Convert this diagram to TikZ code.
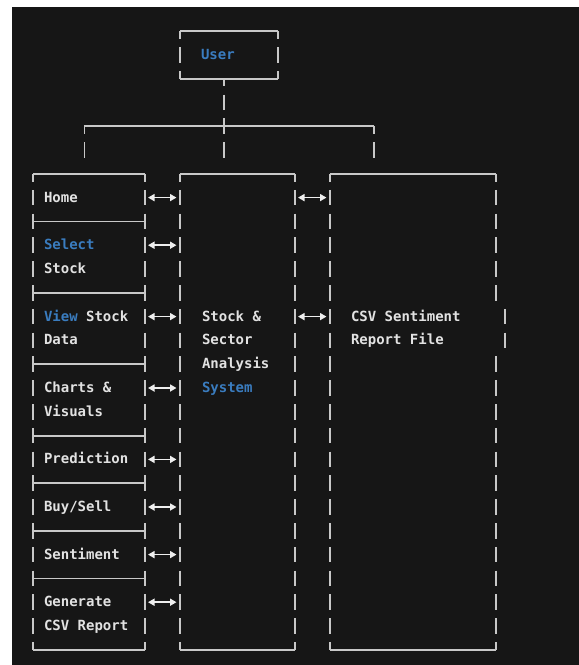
\documentclass[tikz,border=0pt]{standalone}
\usepackage{fontspec}
\newfontfamily\monof{DejaVu Sans Mono}
\usetikzlibrary{arrows.meta}
\definecolor{bg}{HTML}{161616}
\definecolor{ln}{HTML}{C8C8C8}
\definecolor{tx}{HTML}{E2E2E2}
\definecolor{ub}{HTML}{3A7CBF}
\definecolor{ar}{HTML}{EEEEEE}
\begin{document}
\begin{tikzpicture}[x=1pt,y=-1pt,
  box/.style={draw=none, inner sep=0pt, outer sep=0pt, rectangle},
  lbl/.style={anchor=west, inner sep=0pt, outer sep=0pt, text height=9pt, text depth=0pt, text=tx,
    font=\monof\bfseries\fontsize{14}{16}\selectfont},
  hline/.style={draw=ln, line width=1.8pt},
  vline/.style={draw=ln, line width=1.8pt, dash pattern=on 15.5pt off 8.3pt, dash phase=7.75pt},
  vseg/.style={draw=ln, line width=1.8pt, dash pattern=on 15.5pt off 8.3pt, dash phase=0pt},
  arr/.style={draw=ar, line width=1.6pt, {Triangle[length=6.5pt,width=7pt]}-{Triangle[length=6.5pt,width=7pt]},
    shorten <=3pt, shorten >=3.5pt}
]
\useasboundingbox (0,0) rectangle (579,665);
\fill[white] (0,0) rectangle (579,665);
\fill[bg] (12,7) rectangle (579,665);

% box frames (invisible nodes)
\node[box, minimum width=98pt, minimum height=47.6pt] (user) at (229,54.8) {};
\node[box, minimum width=112pt, minimum height=476pt] (lbox) at (89,411.8) {};
\node[box, minimum width=115pt, minimum height=476pt] (mbox) at (237.5,411.8) {};
\node[box, minimum width=166pt, minimum height=476pt] (rbox) at (413,411.8) {};

% user box
\draw[hline] (user.north west) -- (user.north east);
\draw[hline] (user.south west) -- (user.south east);
\draw[vline] (user.north west) -- (user.south west);
\draw[vline] (user.north east) -- (user.south east);

% tree connector
\coordinate (hl) at (84.4,126.2);
\coordinate (hub) at (224,126.2);
\coordinate (hr) at (374,126.2);
\coordinate (dl) at (84.4,157.75);
\coordinate (dm) at (224,157.75);
\coordinate (dr) at (374,157.75);
\draw[hline] (hl) -- (hr);
\draw[vline] (hub |- user.south) -- (dm);
\draw[vline] (hl) -- (dl);
\draw[vline] (hr) -- (dr);

% three boxes
\foreach \b in {lbox,mbox,rbox}{
  \draw[hline] (\b.north west) -- (\b.north east);
  \draw[hline] (\b.south west) -- (\b.south east);
  \draw[vline] (\b.north west) -- (\b.south west);
}
\draw[vline] (lbox.north east) -- (lbox.south east);
\draw[vline] (mbox.north east) -- (mbox.south east);
% right box right border (shifted at two rows)
\coordinate (rbA) at (496,300.55);
\coordinate (rbB) at (505,308.85);
\coordinate (rbC) at (505,348.15);
\coordinate (rbD) at (496,356.45);
\draw[vline] (rbox.north east) -- (rbA);
\draw[vseg] (rbB) -- (rbC);
\draw[vseg] (rbD) -- (rbox.south east);

% separators in left box
\foreach \y in {221.4,292.8,364.2,435.6,483.2,530.8,578.4}{
  \draw[hline] (lbox.west |- 0,\y) -- (lbox.east |- 0,\y);
}

% texts
\node[lbl, text=ub] (tuser) at (201,54.8) {User};
\node[lbl] (thome) at (44,197.6) {Home};
\node[lbl, text=ub] (tselect) at (44,245.2) {Select};
\node[lbl] (tstock) at (44,269) {Stock};
\node[lbl] (tview) at (44,316.6) {{\color{ub}View} Stock};
\node[lbl] (tdata) at (44,340.4) {Data};
\node[lbl] (tcharts) at (44,388) {Charts \&};
\node[lbl] (tvisuals) at (44,411.8) {Visuals};
\node[lbl] (tpred) at (44,459.4) {Prediction};
\node[lbl] (tbuy) at (44,507) {Buy/Sell};
\node[lbl] (tsent) at (44,554.6) {Sentiment};
\node[lbl] (tgen) at (44,602.2) {Generate};
\node[lbl] (tcsv) at (44,626) {CSV Report};

\node[lbl] (tsa) at (202,316.6) {Stock \&};
\node[lbl] (tsb) at (202,340.4) {Sector};
\node[lbl] (tsc) at (202,364.2) {Analysis};
\node[lbl, text=ub] (tsd) at (202,388) {System};

\node[lbl] (tra) at (351,316.6) {CSV Sentiment};
\node[lbl] (trb) at (351,340.4) {Report File};

% arrows
\foreach \n in {thome,tselect,tview,tcharts,tpred,tbuy,tsent,tgen}{
  \draw[arr] (lbox.east |- \n.west) -- (mbox.west |- \n.west);
}
\foreach \n in {thome,tview}{
  \draw[arr] (mbox.east |- \n.west) -- (rbox.west |- \n.west);
}
\end{tikzpicture}
\end{document}
